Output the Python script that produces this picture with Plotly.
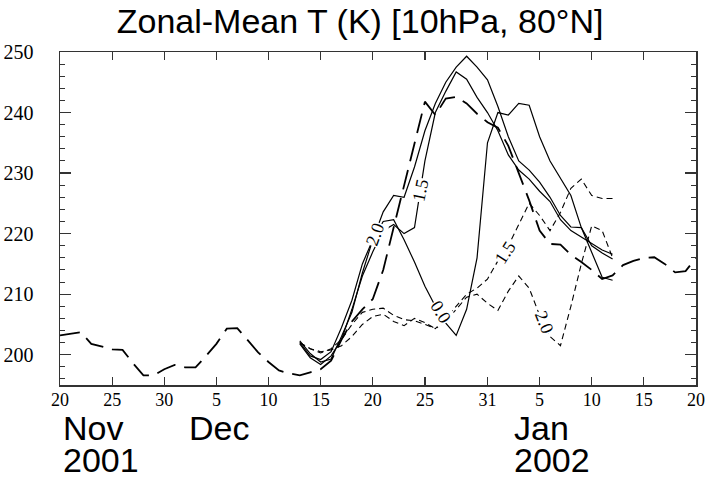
import plotly.graph_objects as go
import pandas as pd

# ---------------- data ----------------
analysis_dates = pd.date_range("2001-11-20", "2002-01-20", freq="D")
analysis = [
    203.2, 203.4, 203.7, 201.8, 201.3, 200.9, 200.8, 198.6, 196.6, 196.6,
    197.6, 198.3, 197.9, 197.9, 199.8, 201.8, 204.3, 204.4, 202.4, 200.4,
    198.8, 197.4, 196.9, 196.6, 197.1, 197.6, 199.0, 202.5, 205.5, 207.5,
    209.2, 214.0, 221.0, 228.0, 235.0, 241.8, 239.6, 242.3, 242.6, 241.5,
    239.8, 238.4, 237.5, 234.5, 230.0, 225.5, 220.5, 218.3, 218.2, 216.5,
    215.3, 214.0, 212.5, 213.1, 214.8, 215.5, 216.0, 216.1, 215.0, 213.6,
    213.8, 216.0,
]

fc_dates = pd.date_range("2001-12-13", "2002-01-12", freq="D")
solid_late = [
    202.3, 200.2, 198.8, 199.3, 203.0, 207.0, 213.5, 219.0, 222.0, 222.3,
    219.0, 215.3, 211.3, 208.0, 205.2, 203.2, 207.5, 216.0, 235.0, 240.0,
    239.6, 241.5, 241.2, 236.0, 232.0, 229.2, 226.3, 221.0, 217.0, 212.8, 212.3,
]
solid_mid = [
    201.8, 199.5, 198.4, 199.8, 202.5, 207.5, 213.0, 217.0, 220.5, 221.5,
    220.0, 221.0, 232.0, 240.0, 243.5, 246.7, 245.5, 242.5, 240.0, 237.0,
    233.0, 230.5, 229.0, 227.0, 225.3, 222.3, 220.5, 219.4, 218.3, 217.3, 216.6,
]
solid_high = [
    202.0, 199.8, 199.2, 200.5, 204.5, 209.0, 215.0, 219.0, 223.6, 226.3,
    226.0, 231.0, 237.0, 241.5, 245.0, 247.5, 249.3, 247.5, 245.4, 241.0,
    236.0, 232.0, 230.5, 228.5, 226.0, 223.0, 221.1, 221.0, 218.0, 216.8, 215.8,
]
dashed_15 = [
    202.0, 201.0, 200.3, 201.0, 202.5, 205.0, 207.0, 207.5, 207.7, 206.5,
    205.8, 205.6, 205.0, 204.3, 206.0, 208.0, 210.0, 211.0, 212.5, 215.5,
    218.0, 221.5, 225.0, 223.0, 220.5, 223.5, 227.5, 229.0, 226.3, 225.8, 225.8,
]
dashed_20 = [
    202.0, 201.0, 200.5, 200.8, 201.5, 203.0, 205.0, 206.3, 206.7, 205.5,
    204.8, 206.0, 205.3, 204.3, 205.5, 207.5, 209.5, 210.0, 208.5, 207.3,
    210.5, 213.0, 211.0, 206.5, 203.0, 201.5, 208.0, 215.0, 221.3, 220.5, 216.0,
]

tick_dates = ["2001-11-20", "2001-11-25", "2001-11-30", "2001-12-05", "2001-12-10",
              "2001-12-15", "2001-12-20", "2001-12-25", "2001-12-31", "2002-01-05",
              "2002-01-10", "2002-01-15", "2002-01-20"]
tick_text = ["20", "25", "30", "5", "10", "15", "20", "25", "31", "5", "10", "15", "20"]

# line labels: text, date, value, angle
line_labels = [
    ("2.0", "2001-12-20 05:00", 220.0, -70),
    ("1.5", "2001-12-24 14:00", 227.2, -78),
    ("0.0", "2001-12-26 12:00", 207.0, 58),
    ("1.5", "2002-01-01 18:00", 216.9, -57),
    ("2.0", "2002-01-05 12:00", 205.3, 68),
]
month_labels = [("Nov", "2001", 0.002), ("Dec", "", 0.200), ("Jan", "2002", 0.711)]

# ---------------- figure ----------------
fig = go.Figure()
solid_style = dict(color="black", width=1.2)
dash_style = dict(color="black", width=1.1, dash="6px,4px")

for ys in (solid_late, solid_mid, solid_high):
    fig.add_trace(go.Scatter(x=fc_dates, y=ys, mode="lines", line=solid_style,
                             showlegend=False, hoverinfo="skip"))
for ys in (dashed_15, dashed_20):
    fig.add_trace(go.Scatter(x=fc_dates, y=ys, mode="lines", line=dash_style,
                             showlegend=False, hoverinfo="skip"))
fig.add_trace(go.Scatter(x=analysis_dates, y=analysis, mode="lines",
                         line=dict(color="black", width=1.8, dash="20px,9px"),
                         showlegend=False, hoverinfo="skip"))

serif = "Liberation Serif, Times New Roman, serif"
sans = "Liberation Sans, Arial, sans-serif"

for txt, d, v, ang in line_labels:
    fig.add_annotation(x=d, y=v, xref="x", yref="y", text=txt, showarrow=False,
                       textangle=ang, font=dict(family=serif, size=18, color="black"),
                       bgcolor="white", borderpad=0)

for m, yr, px in month_labels:
    fig.add_annotation(x=px, y=-0.129, xref="paper", yref="paper", text=m,
                       showarrow=False, xanchor="left", yanchor="middle",
                       font=dict(family=sans, size=34, color="black"))
    if yr:
        fig.add_annotation(x=px, y=-0.225, xref="paper", yref="paper", text=yr,
                           showarrow=False, xanchor="left", yanchor="middle",
                           font=dict(family=sans, size=34, color="black"))

fig.update_layout(
    width=706, height=479,
    margin=dict(l=60, r=10, t=52, b=94, autoexpand=False),
    paper_bgcolor="white", plot_bgcolor="white",
    title=dict(text="Zonal-Mean T (K) [10hPa, 80°N]", x=0.51, xanchor="center",
               y=0.955, yanchor="middle", xref="container", yref="container",
               automargin=False,
               font=dict(family=sans, size=34, color="black")),
    xaxis=dict(range=["2001-11-20", "2002-01-20"], tickmode="array",
               tickvals=tick_dates, ticktext=tick_text, ticks="inside", ticklen=8,
               tickwidth=1.2, tickcolor="#333", showline=True, linecolor="#333",
               linewidth=1.5, mirror="ticks", showgrid=False, zeroline=False,
               automargin=False, ticklabelstandoff=-2,
               tickfont=dict(family=serif, size=18, color="black")),
    yaxis=dict(range=[195, 250], tickmode="array", tickvals=[200, 210, 220, 230, 240, 250],
               ticks="inside", ticklen=11, tickwidth=1.2, tickcolor="#333",
               showline=True, linecolor="#333", linewidth=1.5, mirror="ticks",
               showgrid=False, zeroline=False, automargin=False, ticklabelstandoff=21,
               minor=dict(dtick=2, ticks="inside", ticklen=5, tickwidth=1, tickcolor="#333",
                          showgrid=False),
               tickfont=dict(family=serif, size=20, color="black")),
)

fig.write_html("out.html", config={"displayModeBar": False, "staticPlot": True})

# remove the browser's default page margin so the figure sits at the window origin
with open("out.html", "r", encoding="utf-8") as f:
    html = f.read()
html = html.replace("<head>", "<head><style>html,body{margin:0;padding:0;overflow:hidden;}</style>", 1)
with open("out.html", "w", encoding="utf-8") as f:
    f.write(html)
